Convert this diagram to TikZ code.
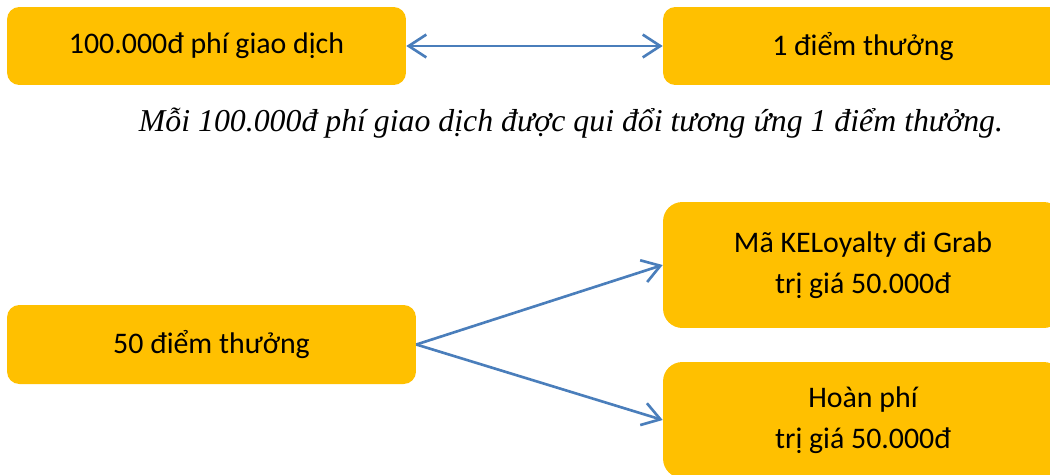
\documentclass[tikz,border=0pt]{standalone}
\usepackage{fontspec}
\setmainfont{Carlito}
\newfontfamily\captionfont{Liberation Serif}
\usetikzlibrary{arrows.meta,positioning}
\definecolor{boxorange}{HTML}{FFC000}
\definecolor{linkblue}{HTML}{4A7EBB}

\begin{document}
\begin{tikzpicture}[x=0.02cm,y=-0.02cm,
	box/.style={fill=boxorange,rounded corners=7pt,inner sep=0pt,align=center,
		font=\fontsize{17}{23.5}\selectfont},
	link/.style={draw=linkblue,line width=1.5pt,-{Straight Barb[length=10pt,width=13pt]}}]
		\useasboundingbox (0,0) rectangle (1050,474);
		% top row
		\node (fee) at (206.5,46)[box,minimum width=7.98cm,minimum height=1.56cm] {100.000đ phí giao dịch};
		\node (point) at (863,46)[box,minimum width=8cm,minimum height=1.56cm] {1 điểm thưởng};
		\node (note) at (571,131)[anchor=base,font=\captionfont\itshape\fontsize{18.1}{21}\selectfont]
			{Mỗi 100.000đ phí giao dịch được qui đổi tương ứng 1 điểm thưởng.};
		% bottom row
		\node (fifty) at (211.5,344.5)[box,minimum width=8.18cm,minimum height=1.58cm] {50 điểm thưởng};
		\node (grab) at (863,265)[box,rounded corners=11pt,minimum width=8cm,minimum height=2.52cm]
			{Mã KELoyalty đi Grab\\trị giá 50.000đ};
		\node (refund) at (863,420)[box,rounded corners=11pt,minimum width=8cm,minimum height=2.32cm]
			{Hoàn phí\\trị giá 50.000đ};
		\draw[link,{Straight Barb[length=10pt,width=13pt]}-{Straight Barb[length=10pt,width=13pt]}] (fee.east)--(point.west);
		\draw[link] (fifty.east)--(grab.west);
		\draw[link] (fifty.east)--(refund.west);
\end{tikzpicture}
\end{document}
